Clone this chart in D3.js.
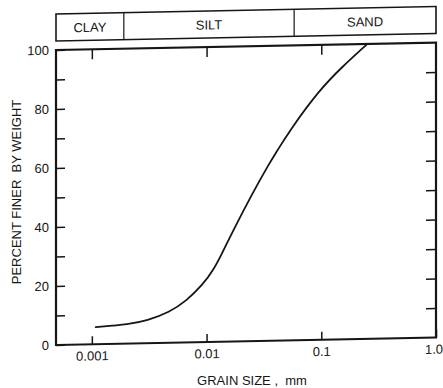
<!DOCTYPE html>
<html>
<head>
<meta charset="utf-8">
<script src="https://cdn.jsdelivr.net/npm/d3@7"></script>
<style>
  html, body { margin: 0; padding: 0; background: #fff; }
  svg { display: block; }
  text { font-family: "Liberation Sans", Arial, sans-serif; fill: #161616; }
</style>
</head>
<body>
<svg></svg>
<script>
// grain size (mm) vs percent finer
const grainSize = [0.00108, 0.00214, 0.00301, 0.00476, 0.00665, 0.00929, 0.01135, 0.01387,
                   0.01667, 0.0251, 0.0353, 0.0406, 0.0527, 0.0962, 0.1524, 0.246];
const percentFiner = [5.8, 6.6, 7.6, 10.4, 14.0, 19.6, 24.0, 30.5,
                      36.9, 50.1, 60.2, 63.9, 71.0, 84.7, 92.4, 99.6];

const xTicks = [0.001, 0.01, 0.1, 1];
const xTickLabels = ['0.001', '0.01', '0.1', '1.0'];
const yTicks = [0, 10, 20, 30, 40, 50, 60, 70, 80, 90, 100];

// soil classes across the top band (boundaries in mm)
const soilClasses = ['CLAY', 'SILT', 'SAND'];
const classBounds = [0.000487, 0.0019, 0.058, 1];

const width = 443, height = 388;
const plotLeft = 56, plotRight = 436, plotTop = 50, plotBottom = 345;
const ink = '#161616';
const fontSize = 13;

const svg = d3.select('svg')
  .attr('width', width)
  .attr('height', height);

// the scan is slightly sheared: horizontal lines drop toward the left
const shear = 1.13;
const g = svg.append('g')
  .attr('transform', `translate(0,${plotLeft * Math.tan(shear * Math.PI / 180)}) skewY(${-shear})`);

const x = d3.scaleLog().domain([0.000487, 1]).range([plotLeft, plotRight]);
const y = d3.scaleLinear().domain([0, 100]).range([plotBottom, plotTop]);

// classification band
const bandTop = 14, bandBottom = 41;
g.append('rect')
  .attr('x', plotLeft).attr('y', bandTop)
  .attr('width', plotRight - plotLeft).attr('height', bandBottom - bandTop)
  .attr('fill', 'none').attr('stroke', ink).attr('stroke-width', 1.6);

g.selectAll('.divider')
  .data(classBounds.slice(1, -1))
  .enter().append('line')
  .attr('class', 'divider')
  .attr('x1', d => x(d)).attr('x2', d => x(d))
  .attr('y1', bandTop).attr('y2', bandBottom)
  .attr('stroke', ink).attr('stroke-width', 1.2);

g.selectAll('.cls')
  .data(soilClasses)
  .enter().append('text')
  .attr('class', 'cls')
  .attr('x', (d, i) => (x(classBounds[i]) + x(classBounds[i + 1])) / 2)
  .attr('y', 32.5)
  .attr('text-anchor', 'middle')
  .attr('font-size', fontSize)
  .text(d => d);

// axes
const yAxis = g.append('g')
  .attr('transform', `translate(${plotLeft},0)`)
  .call(d3.axisLeft(y).tickValues(yTicks).tickSize(-9).tickSizeOuter(0).tickPadding(7)
    .tickFormat(d => d % 20 === 0 ? d : ''));

const yAxisRight = g.append('g')
  .attr('transform', `translate(${plotRight},0)`)
  .call(d3.axisRight(y).tickValues(yTicks.slice(1, -1)).tickSize(-10).tickSizeOuter(0).tickFormat(''));

const xAxis = g.append('g')
  .attr('transform', `translate(0,${plotBottom})`)
  .call(d3.axisBottom(x).tickValues(xTicks).tickSize(-8).tickSizeOuter(0).tickPadding(7)
    .tickFormat((d, i) => xTickLabels[i]));

const xAxisTop = g.append('g')
  .attr('transform', `translate(0,${plotTop})`)
  .call(d3.axisTop(x).tickValues(xTicks.slice(0, -1)).tickSize(-10).tickSizeOuter(0).tickFormat(''));

[yAxis, yAxisRight, xAxis, xAxisTop].forEach(a => {
  a.select('.domain').remove();
  a.selectAll('line').attr('stroke', ink).attr('stroke-width', 1.5);
  a.selectAll('text')
    .attr('fill', ink)
    .attr('font-size', fontSize)
    .attr('font-family', '"Liberation Sans", Arial, sans-serif');
});

// last x label sits against the window edge, keep it inside
xAxis.selectAll('.tick text')
  .filter(d => d === 1)
  .attr('text-anchor', 'end')
  .attr('x', width - plotRight - 0.5);

// plot frame
g.append('rect')
  .attr('x', plotLeft).attr('y', plotTop)
  .attr('width', plotRight - plotLeft).attr('height', plotBottom - plotTop)
  .attr('fill', 'none').attr('stroke', ink).attr('stroke-width', 2.2);

// grading curve
const points = grainSize.map((d, i) => [d, percentFiner[i]]);
const line = d3.line()
  .x(d => x(d[0]))
  .y(d => y(d[1]))
  .curve(d3.curveBasis);

g.append('path')
  .datum(points)
  .attr('d', line)
  .attr('fill', 'none')
  .attr('stroke', ink)
  .attr('stroke-width', 1.8)
  .attr('stroke-linecap', 'round');

// axis titles (outside the sheared group)
svg.append('text')
  .attr('x', 252).attr('y', 385)
  .attr('text-anchor', 'middle')
  .attr('font-size', fontSize)
  .style('white-space', 'pre')
  .text('GRAIN SIZE ,  mm');

svg.append('text')
  .attr('transform', 'translate(21,192) rotate(-90)')
  .attr('text-anchor', 'middle')
  .attr('font-size', fontSize)
  .style('white-space', 'pre')
  .text('PERCENT FINER  BY WEIGHT');
</script>
</body>
</html>
